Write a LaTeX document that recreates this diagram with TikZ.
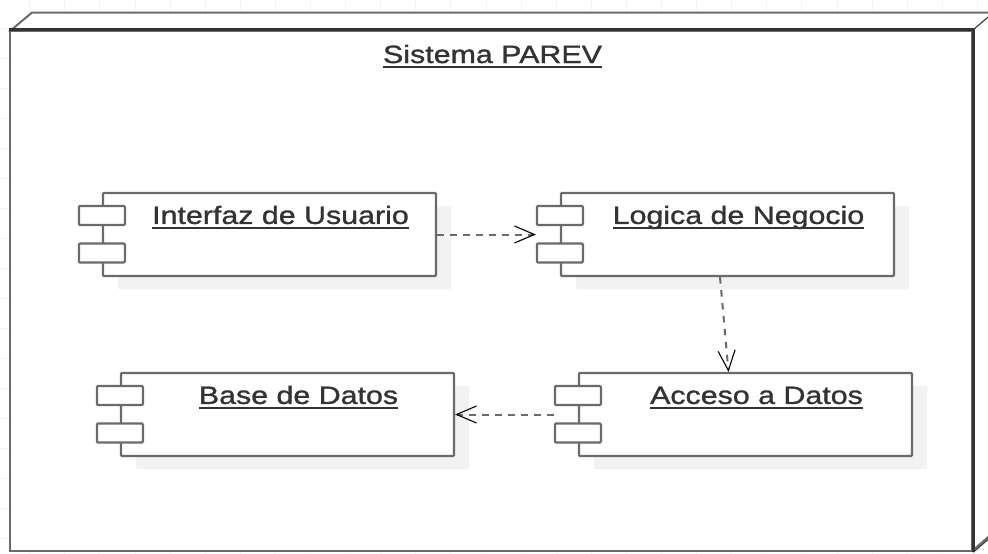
\documentclass[tikz,border=0pt]{standalone}
\usepackage{fontspec}
\newfontfamily\umlfont[FakeStretch=1.215,FakeBold=1.2]{Liberation Sans}
\usetikzlibrary{arrows.meta,shadows}
\definecolor{umlline}{HTML}{6A6A6A}
\definecolor{umldark}{HTML}{333333}
\definecolor{umlshadow}{HTML}{F2F2F2}
\definecolor{umlgrid}{HTML}{F4F4F4}
\newcommand{\umltitle}[1]{\sbox0{#1}\rlap{\rule[-5pt]{\wd0}{1.7pt}}\usebox0}
\tikzset{
  frame/.style = {rectangle, draw=umlline, fill=white, line width=2.4pt,
    minimum width=962pt, minimum height=520pt, inner sep=0pt},
  comp/.style = {rectangle, draw=umlline, fill=white, line width=2.2pt, rounded corners=1pt,
    minimum width=333pt, minimum height=83pt, inner sep=0pt,
    general shadow={fill=umlshadow, shadow xshift=15pt, shadow yshift=-13pt}},
  port/.style = {rectangle, draw=umlline, fill=white, line width=2.2pt, rounded corners=1pt,
    minimum width=46pt, minimum height=19pt, inner sep=0pt},
  title/.style = {font=\umlfont\fontsize{25}{25}\selectfont, text=umldark, inner sep=0pt, anchor=base},
  dep/.style = {draw=umlline, line width=2pt, dash pattern=on 6.5pt off 6.5pt,
    -{Straight Barb[length=20pt,width=17pt,line width=1.1pt,color=black]}}
}
\begin{document}
\begin{tikzpicture}[x=1pt,y=-1pt]
  \useasboundingbox (0,0) rectangle (988,554);
  \clip (0,0) rectangle (988,554);
  % background grid
  \foreach \gx in {0,...,28} \draw[umlgrid,line width=.6pt] (29.5+35.1*\gx,0) -- (29.5+35.1*\gx,554);
  \foreach \gy in {0,...,18} \draw[umlgrid,line width=.6pt] (0,28+30*\gy) -- (988,28+30*\gy);
  % node
  \draw[umlline,line width=2pt,fill=white] (10,31) -- (32,12.5) -- (1000,12.5) -- (1000,527) -- (972,551) -- cycle;
  \node [frame] (pv) at (491,291) {};
  \draw[umldark,line width=3pt] (pv.north west) -- (pv.north east) -- (pv.south east);
  \draw[umldark,line width=1.1pt] (pv.north east) -- +(28,-24);
  \draw[umldark,line width=1.1pt] (pv.south east) -- +(28,-24);
  \node [title] (pvt) at (492.5,63) {\umltitle{Sistema PAREV}};
  % components
  \node [comp] (iu) at (269.5,234.5) {};
  \node [comp] (lg) at (727.5,234.5) {};
  \node [comp] (bd) at (287.5,414.5) {};
  \node [comp] (ac) at (745.5,414.5) {};
  \foreach \b in {iu,lg,bd,ac} {
    \node [port] (\b p1) at ([yshift=19pt]\b.west) {};
    \node [port] (\b p2) at ([yshift=-18.5pt]\b.west) {};
  }
  \node [title] (iut) at ([xshift=11pt,yshift=-32pt]iu.north) {\umltitle{Interfaz de Usuario}};
  \node [title] (lgt) at ([xshift=11pt,yshift=-32pt]lg.north) {\umltitle{Logica de Negocio}};
  \node [title] (bdt) at ([xshift=11pt,yshift=-32pt]bd.north) {\umltitle{Base de Datos}};
  \node [title] (act) at ([xshift=11pt,yshift=-32pt]ac.north) {\umltitle{Acceso a Datos}};
  % dependencies
  \draw [dep] (iu.east) -- (iu.east -| lgp1.west);
  \draw [dep] ([xshift=-7.5pt]lg.south) -- ([xshift=-17pt]ac.north);
  \draw [dep] (ac.west -| acp1.west) -- (bd.east);
\end{tikzpicture}
\end{document}
